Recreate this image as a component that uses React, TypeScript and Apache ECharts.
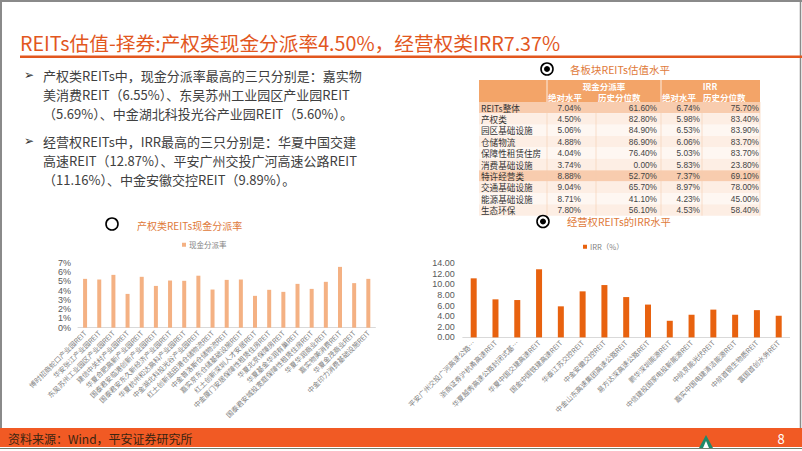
import React, { useEffect, useRef } from 'react';
import * as echarts from 'echarts';

const FONT = '"Noto Sans CJK SC", "Noto Sans", sans-serif';

// ---------- data ----------
const propertyNames = [
  '博时招商蛇口产业园REIT', '华安张江产业园REIT', '东吴苏州工业园区产业园REIT', '建信中关村产业园REIT',
  '华夏合肥高新产业园REIT', '国泰君安临港创新产业园REIT', '国泰君安东久新经济产业园REIT', '华夏杭州和达高科产业园REIT',
  '中金湖北科投光谷产业园REIT', '红土创新盐田港仓储物流REIT', '中金普洛斯仓储物流REIT', '嘉实京东仓储基础设施REIT',
  '红土创新深圳人才安居REIT', '中金厦门安居保障性租赁住房REIT', '华夏北京保障房REIT', '华夏基金华润有巢REIT',
  '国泰君安城投宽庭保障性租赁住房REIT', '华夏华润商业REIT', '嘉实物美消费REIT', '华夏金茂商业REIT', '中金印力消费基础设施REIT',
];
const propertyYields = [5.26, 5.19, 5.69, 3.64, 5.48, 4.5, 5.08, 5.05, 5.6, 4.11, 5.15, 5.19, 3.43, 4.08, 3.86, 4.72, 4.18, 4.94, 6.55, 4.8, 5.26];

const franchiseNames = [
  '平安广州交投广河高速公路封闭式基础设施证券投资基金', '浙商证券沪杭甬高速REIT', '华夏越秀高速公路封闭式基础设施证券投资基金',
  '华夏中国交建高速REIT', '国金中国铁建高速REIT', '华泰江苏交控REIT', '中金安徽交控REIT', '中金山东高速集团高速公路REIT',
  '易方达深高速公路REIT', '鹏华深圳能源REIT', '中信建投国家电投新能源REIT', '中航京能光伏REIT', '嘉实中国电建清洁能源REIT',
  '中航首钢生物质REIT', '富国首创水务REIT',
];
const franchiseIrr = [11.16, 7.19, 7.06, 12.87, 5.87, 8.7, 9.89, 7.62, 6.2, 3.14, 4.28, 5.25, 4.28, 5.15, 4.09];

const sectorNames = ['REITs整体', '产权类', '园区基础设施', '仓储物流', '保障性租赁住房', '消费基础设施', '特许经营类', '交通基础设施', '能源基础设施', '生态环保'];
const cashAbs = [7.04, 4.5, 5.06, 4.88, 4.04, 3.74, 8.88, 9.04, 8.71, 7.8];
const cashPct = [61.6, 82.8, 84.9, 86.9, 76.4, 0.0, 52.7, 65.7, 41.1, 56.1];
const irrAbs = [6.74, 5.98, 6.53, 6.06, 5.03, 5.83, 7.37, 8.97, 4.23, 4.53];
const irrPct = [75.7, 83.4, 83.9, 83.7, 83.7, 23.8, 69.1, 78.0, 45.0, 58.4];
const highlightRows = ['REITs整体', '特许经营类'];

const titleText = 'REITs估值-择券:产权类现金分派率4.50%，经营权类IRR7.37%';
const bullet1 = [
  '产权类REITs中，现金分派率最高的三只分别是：嘉实物',
  '美消费REIT（6.55%）、东吴苏州工业园区产业园REIT',
  '（5.69%）、中金湖北科投光谷产业园REIT（5.60%）。',
];
const bullet2 = [
  '经营权REITs中，IRR最高的三只分别是：华夏中国交建',
  '高速REIT（12.87%）、平安广州交投广河高速公路REIT',
  '（11.16%）、中金安徽交控REIT（9.89%）。',
];

// ---------- helpers ----------
const ORANGE = '#E2571E';
const txt = (text: string, x: number, y: number, size: number, fill: string, align = 'left', weight = 'normal', family = FONT) => ({
  type: 'text', x, y, silent: true,
  style: { text, fontSize: size, lineHeight: size, fill, fontFamily: family, align, verticalAlign: 'middle', fontWeight: weight },
});
const rect = (x: number, y: number, w: number, h: number, fill: string) => ({
  type: 'rect', silent: true, shape: { x, y, width: w, height: h }, style: { fill },
});
const line = (x1: number, y1: number, x2: number, y2: number, stroke: string, lw = 1) => ({
  type: 'line', silent: true, shape: { x1, y1, x2, y2 }, style: { stroke, lineWidth: lw },
});
const radio = (cx: number, cy: number, filled: boolean) => {
  const els: any[] = [{ type: 'circle', silent: true, shape: { cx, cy, r: 6 }, style: { fill: '#fff', stroke: '#000', lineWidth: 1.6 } }];
  if (filled) els.push({ type: 'circle', silent: true, shape: { cx, cy, r: 3 }, style: { fill: '#000' } });
  return els;
};
const pct = (v: number) => v.toFixed(2) + '%';
const NUMFONT = '"Liberation Sans", Arial';

function buildGraphics() {
  const g: any[] = [];
  // frame
  g.push(line(1, 0, 1, 428, '#8a8a8a', 2));
  g.push(line(0, 1, 802, 1, '#8a8a8a', 2));
  g.push(line(800.5, 0, 800.5, 428, '#8a8a8a', 1.5));
  // title
  g.push(txt(titleText, 20, 42, 19.7, ORANGE));
  g.push(rect(20, 55.5, 782, 2.5, ORANGE));
  // bullets
  const b1y = [75, 94.5, 113.5];
  const b2y = [141, 160, 179];
  g.push(txt('➢', 24, b1y[0], 12, '#333', 'left', 'normal', '"DejaVu Sans"'));
  g.push(txt('➢', 24, b2y[0], 12, '#333', 'left', 'normal', '"DejaVu Sans"'));
  bullet1.forEach((t, i) => g.push(txt(t, 43, b1y[i], 13, '#404040')));
  bullet2.forEach((t, i) => g.push(txt(t, 43, b2y[i], 13, '#404040')));

  // table title
  g.push(...radio(547, 69, true));
  g.push(txt('各板块REITs估值水平', 570, 69, 10.5, '#E07A3A'));
  // table
  const tx = 479, tw = 281;
  const hdrFill = '#F3A468';
  g.push(rect(tx, 80, tw, 22, hdrFill));
  g.push(line(547, 80, 547, 102, '#fff', 0.8));
  g.push(line(661, 80, 661, 102, '#fff', 0.8));
  g.push(txt('现金分派率', 604, 85.6, 8.5, '#fff', 'center', 'bold'));
  g.push(txt('IRR', 710, 85.6, 8.5, '#fff', 'center', 'bold'));
  g.push(txt('绝对水平', 548, 96.8, 8.5, '#fff', 'left', 'bold'));
  g.push(txt('历史分位数', 598, 96.8, 8.5, '#fff', 'left', 'bold'));
  g.push(txt('绝对水平', 662, 96.8, 8.5, '#fff', 'left', 'bold'));
  g.push(txt('历史分位数', 703, 96.8, 8.5, '#fff', 'left', 'bold'));
  const rowH = 11.37;
  sectorNames.forEach((name, i) => {
    const y0 = 102 + i * rowH;
    const fill = highlightRows.includes(name) ? '#F8CCAE' : (i % 2 === 1 ? '#FDEEE4' : '#FEF7F2');
    g.push(rect(tx, y0, tw, rowH, fill));
    const cy = y0 + rowH / 2;
    g.push(txt(name, 481, cy, 8.6, '#333'));
    g.push(txt(pct(cashAbs[i]), 581, cy, 8.3, '#444', 'right', 'normal', NUMFONT));
    g.push(txt(pct(cashPct[i]), 657, cy, 8.3, '#444', 'right', 'normal', NUMFONT));
    g.push(txt(pct(irrAbs[i]), 700, cy, 8.3, '#444', 'right', 'normal', NUMFONT));
    g.push(txt(pct(irrPct[i]), 759, cy, 8.3, '#444', 'right', 'normal', NUMFONT));
  });
  [547, 596, 661, 702, 760].forEach((x) => g.push(line(x, 102, x, 102 + rowH * sectorNames.length, '#F5CDB0', 0.6)));

  // chart titles
  g.push(...radio(112, 224, false));
  g.push(txt('产权类REITs现金分派率', 137, 225, 10, '#E07A3A'));
  g.push(...radio(543, 221.5, true));
  g.push(txt('经营权REITs的IRR水平', 567, 221.5, 10.3, '#E07A3A'));

  // footer
  g.push(rect(0, 428, 802, 19, '#F15A24'));
  g.push(line(0, 448.5, 802, 448.5, '#6f7f6f', 1));
  g.push(txt('资料来源：Wind，平安证券研究所', 8, 438, 12, '#3a2410'));
  g.push(txt('8', 781, 438, 13, '#fff', 'center'));
  g.push({ type: 'polygon', silent: true, shape: { points: [[699, 448], [706, 435], [713, 448]] }, style: { fill: '#1f8a6a' } });
  g.push({ type: 'polygon', silent: true, shape: { points: [[703, 448], [706, 441], [709, 448]] }, style: { fill: '#fff' } });
  return g;
}

export default function App() {
  const ref = useRef<HTMLDivElement>(null);
  useEffect(() => {
    if (!ref.current) return;
    const chart = echarts.init(ref.current, undefined, { renderer: 'svg' });
    const axisLabelBase = { rotate: 45, fontSize: 7, color: '#7f7f7f', interval: 0, margin: 4, fontFamily: FONT };
    chart.setOption({
      animation: false,
      backgroundColor: '#ffffff',
      textStyle: { fontFamily: FONT },
      legend: [
        { data: ['现金分派率'], left: 182, top: 241, itemWidth: 4, itemHeight: 4, itemGap: 3, icon: 'rect', padding: 0, textStyle: { fontSize: 7.5, color: '#7f7f7f', padding: [0, 0, 0, -2] } },
        { data: ['IRR（%）'], left: 583, top: 243, itemWidth: 4, itemHeight: 4, itemGap: 3, icon: 'rect', padding: 0, textStyle: { fontSize: 7.5, color: '#7f7f7f', padding: [0, 0, 0, -2] } },
      ],
      grid: [
        { left: 78, right: 426.6, top: 262.7, bottom: 123.3 },
        { left: 462.8, right: 12.4, top: 263.3, bottom: 113.6 },
      ],
      xAxis: [
        {
          type: 'category', gridIndex: 0, data: propertyNames,
          axisLine: { lineStyle: { color: '#d9d9d9' } }, axisTick: { show: false },
          axisLabel: axisLabelBase,
        },
        {
          type: 'category', gridIndex: 1, data: franchiseNames,
          axisLine: { lineStyle: { color: '#d9d9d9' } }, axisTick: { show: false },
          axisLabel: { ...axisLabelBase, formatter: (v: string) => (v.length > 18 ? v.slice(0, 12) + '…' : v) },
        },
      ],
      yAxis: [
        {
          type: 'value', gridIndex: 0, min: 0, max: 7, interval: 1,
          axisLabel: { formatter: '{value}%', fontSize: 9, color: '#595959', margin: 7, fontFamily: NUMFONT },
          splitLine: { show: false }, axisLine: { show: false }, axisTick: { show: false },
        },
        {
          type: 'value', gridIndex: 1, min: 0, max: 14, interval: 2,
          axisLabel: { formatter: (v: number) => v.toFixed(2), fontSize: 9, color: '#595959', margin: 8, fontFamily: NUMFONT },
          splitLine: { show: false }, axisLine: { show: false }, axisTick: { show: false },
        },
      ],
      series: [
        { type: 'bar', name: '现金分派率', xAxisIndex: 0, yAxisIndex: 0, data: propertyYields, barWidth: 4, itemStyle: { color: '#F4B183' } },
        { type: 'bar', name: 'IRR（%）', xAxisIndex: 1, yAxisIndex: 1, data: franchiseIrr, barWidth: 6, itemStyle: { color: '#E8620F' } },
      ],
      graphic: buildGraphics(),
    });
    return () => chart.dispose();
  }, []);
  return <div ref={ref} style={{ position: 'fixed', left: 0, top: 0, width: 802, height: 451 }} />;
}
